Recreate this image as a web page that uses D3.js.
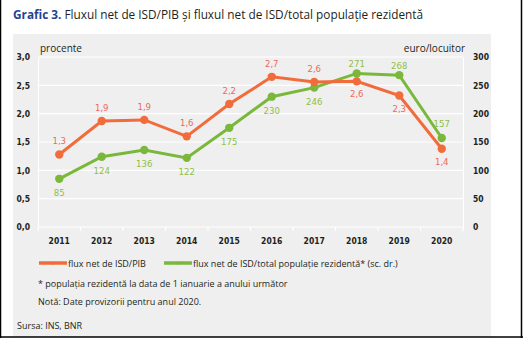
<!DOCTYPE html>
<html><head><meta charset="utf-8">
<script src="https://cdn.jsdelivr.net/npm/d3@7"></script>
<style>
body{margin:0;background:#fff;}
svg{display:block;}
</style></head>
<body>
<script>
const years = ["2011","2012","2013","2014","2015","2016","2017","2018","2019","2020"];
const pibValues = [1.28, 1.87, 1.89, 1.60, 2.17, 2.65, 2.56, 2.57, 2.32, 1.38];
const pibLabels = ["1,3","1,9","1,9","1,6","2,2","2,7","2,6","2,6","2,3","1,4"];
const popValues = [85, 124, 136, 122, 175, 230, 246, 271, 268, 157];
const leftTicks = [0, 0.5, 1, 1.5, 2, 2.5, 3];
const rightTicks = [0, 50, 100, 150, 200, 250, 300];
const pibLabelPos = ["a","a","a","a","a","a","a","b","b","b"];
const popLabelPos = ["b","b","b","b","b","b","b","a","a","a2"];

const W = 523, H = 338;
const orange = "#f26b3a", green = "#7ab83c";
const orangeTxt = "#f0685a", greenTxt = "#8dbf45";
const cond = "'DejaVu Sans Condensed','DejaVu Sans',sans-serif";
const sans = "'Open Sans','Noto Sans',sans-serif";

const svg = d3.select("body").append("svg").attr("width", W).attr("height", H);

// panel
svg.append("rect").attr("x",13).attr("y",34).attr("width",478).attr("height",303).attr("fill","#efefef");
// outer frame
svg.append("line").attr("x1",0.5).attr("x2",0.5).attr("y1",0).attr("y2",H).attr("stroke","#000").attr("stroke-width",1.5);
svg.append("line").attr("x1",521.5).attr("x2",521.5).attr("y1",0).attr("y2",H).attr("stroke","#000").attr("stroke-width",1.5);
svg.append("line").attr("x1",0).attr("x2",W).attr("y1",337).attr("y2",337).attr("stroke","#000").attr("stroke-width",1.5);

// title
const t = svg.append("text").attr("x",13).attr("y",19).attr("font-family",sans).attr("font-size",11.8);
t.append("tspan").attr("fill","#2a3f8f").attr("font-weight","bold").text("Grafic 3.");
t.append("tspan").attr("fill","#231f20").text(" Fluxul net de ISD/PIB și fluxul net de ISD/total populație rezidentă");

const x0 = 38, x1 = 463, y0 = 227, y1 = 57;
const x = d3.scaleBand().domain(years).range([x0, x1]);
const yL = d3.scaleLinear().domain([0,3]).range([y0, y1]);
const yR = d3.scaleLinear().domain([0,300]).range([y0, y1]);

// gridlines
svg.append("g").selectAll("line").data(leftTicks).join("line")
  .attr("x1",x0).attr("x2",x1).attr("y1",d=>yL(d)).attr("y2",d=>yL(d))
  .attr("stroke","#fff").attr("stroke-width",1.2);

// left axis
const gL = svg.append("g").attr("transform",`translate(${x0},0)`)
  .call(d3.axisLeft(yL).tickValues(leftTicks).tickSize(0).tickPadding(8).tickFormat(d=>d3.format(".1f")(d).replace(".",",")));
gL.select(".domain").attr("stroke","#fff").attr("stroke-width",1.2);
gL.selectAll("text").attr("font-family",cond).attr("font-size",8.5).attr("font-weight","bold").attr("fill","#231f20");

// right axis
const gR = svg.append("g").attr("transform",`translate(${x1},0)`)
  .call(d3.axisRight(yR).tickValues(rightTicks).tickSize(0).tickPadding(10));
gR.select(".domain").attr("stroke","#fff").attr("stroke-width",1.2);
gR.selectAll("text").attr("font-family",cond).attr("font-size",8.5).attr("font-weight","bold").attr("fill","#231f20");

// bottom axis
const boundaries = years.map(d=>x(d)).concat([x1]);
svg.append("g").selectAll("line").data(boundaries).join("line")
  .attr("x1",d=>d).attr("x2",d=>d).attr("y1",y0).attr("y2",y0+4).attr("stroke","#fff").attr("stroke-width",1.2);
svg.append("g").selectAll("text").data(years).join("text")
  .attr("x",d=>x(d)+x.bandwidth()/2).attr("y",244).attr("text-anchor","middle")
  .attr("font-family",cond).attr("font-size",8.5).attr("font-weight","bold").attr("fill","#231f20").text(d=>d);

// unit labels
svg.append("text").attr("x",40).attr("y",52).attr("font-family",sans).attr("font-size",10).attr("fill","#231f20").text("procente");
svg.append("text").attr("x",465).attr("y",52).attr("text-anchor","end").attr("font-family",sans).attr("font-size",10).attr("fill","#231f20").text("euro/locuitor");

const cx = d => x(d)+x.bandwidth()/2;

// lines
svg.append("path").datum(years).attr("fill","none").attr("stroke",green).attr("stroke-width",3)
  .attr("d", d3.line().x(cx).y((d,i)=>yR(popValues[i])));
svg.append("path").datum(years).attr("fill","none").attr("stroke",orange).attr("stroke-width",3)
  .attr("d", d3.line().x(cx).y((d,i)=>yL(pibValues[i])));
svg.append("g").selectAll("circle").data(years).join("circle")
  .attr("cx",cx).attr("cy",(d,i)=>yR(popValues[i])).attr("r",4.2).attr("fill",green);
svg.append("g").selectAll("circle").data(years).join("circle")
  .attr("cx",cx).attr("cy",(d,i)=>yL(pibValues[i])).attr("r",4.2).attr("fill",orange);

// data labels
const popOff = {a:-6, a2:-11, b:17};
svg.append("g").selectAll("text").data(years).join("text")
  .attr("x",cx).attr("y",(d,i)=>yL(pibValues[i]) + (pibLabelPos[i]==="a" ? -10 : 16))
  .attr("text-anchor","middle").attr("font-family",cond).attr("font-size",9.5).attr("fill",orangeTxt)
  .text((d,i)=>pibLabels[i]);
svg.append("g").selectAll("text").data(years).join("text")
  .attr("x",cx).attr("y",(d,i)=>yR(popValues[i]) + popOff[popLabelPos[i]])
  .attr("text-anchor","middle").attr("font-family",cond).attr("font-size",9.5).attr("fill",greenTxt)
  .text((d,i)=>popValues[i]);

// legend
const leg = [{c:orange,t:"flux net de ISD/PIB",x:39},{c:green,t:"flux net de ISD/total populație rezidentă* (sc. dr.)",x:164}];
leg.forEach(l=>{
  svg.append("line").attr("x1",l.x).attr("x2",l.x+28).attr("y1",263).attr("y2",263).attr("stroke",l.c).attr("stroke-width",3.5);
  svg.append("circle").attr("cx",l.x+14).attr("cy",263).attr("r",1.5).attr("fill",l.c);
  svg.append("text").attr("x",l.x+29).attr("y",266.5).attr("font-family",sans).attr("font-size",9).attr("fill","#231f20").text(l.t);
});

svg.append("text").attr("x",38).attr("y",287).attr("font-family",sans).attr("font-size",9).attr("fill","#231f20").text("* populația rezidentă la data de 1 ianuarie a anului următor");
svg.append("text").attr("x",38).attr("y",305).attr("font-family",sans).attr("font-size",9).attr("fill","#231f20").text("Notă: Date provizorii pentru anul 2020.");
svg.append("text").attr("x",17).attr("y",329).attr("font-family",sans).attr("font-size",9).attr("fill","#231f20").text("Sursa: INS, BNR");
</script>
</body></html>
